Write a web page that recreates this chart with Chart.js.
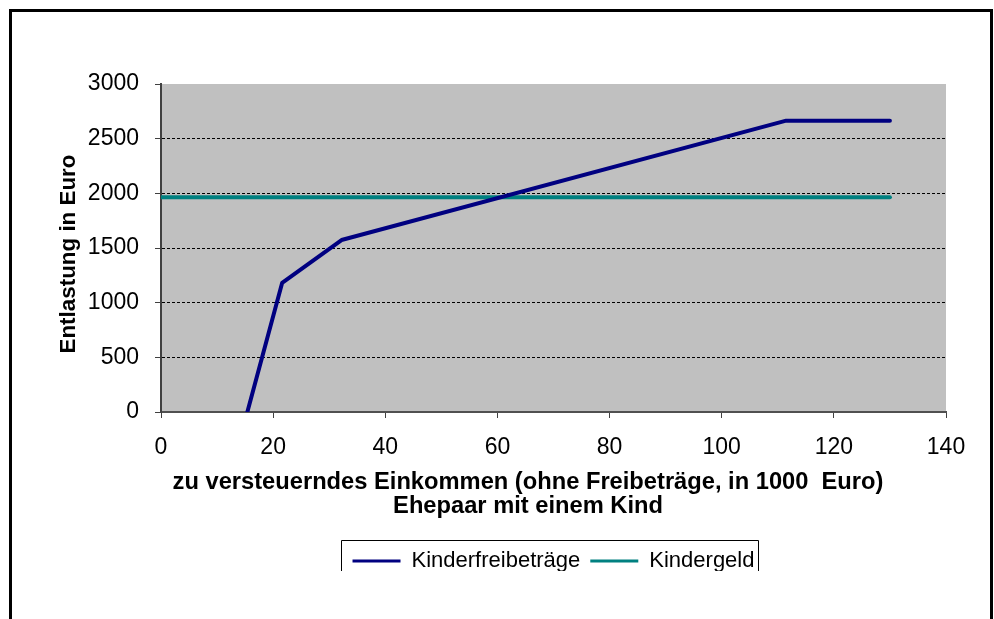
<!DOCTYPE html>
<html>
<head>
<meta charset="utf-8">
<script src="https://cdn.jsdelivr.net/npm/chart.js@4/dist/chart.umd.min.js"></script>
<style>
  html, body { margin: 0; padding: 0; background: #fff; }
  #wrap { width: 994px; height: 619px; position: relative; }
</style>
</head>
<body>
<div id="wrap"><canvas id="c" width="994" height="619"></canvas></div>
<script>
// ---- data ----
const seriesNames = ['Kinderfreibeträge', 'Kindergeld'];
const incomeFreibetrag = [15.4, 21.6, 32.2, 111.5, 130];      // in 1000 Euro
const reliefFreibetrag = [0, 1180, 1573, 2665, 2665];        // Euro
const incomeKindergeld = [0, 130];
const reliefKindergeld = [1964, 1964];
const xTickValues = [0, 20, 40, 60, 80, 100, 120, 140];
const yTickValues = [0, 500, 1000, 1500, 2000, 2500, 3000];
const xTitleLines = ['zu versteuerndes Einkommen (ohne Freibeträge, in 1000  Euro)', 'Ehepaar mit einem Kind'];
const yTitle = 'Entlastung in Euro';

const FONT = '"Liberation Sans", Arial, sans-serif';

const toPoints = (xs, ys) => xs.map((x, i) => ({ x: x, y: ys[i] }));

const framePlugin = {
  id: 'frame',
  beforeDraw(chart) {
    const { ctx, chartArea: a } = chart;
    ctx.save();
    ctx.fillStyle = '#ffffff';
    ctx.fillRect(0, 0, chart.width, chart.height);
    ctx.fillStyle = '#c0c0c0';
    ctx.fillRect(a.left, a.top, a.right - a.left, a.bottom - a.top);
    ctx.restore();
  },
  afterDraw(chart) {
    const { ctx } = chart;
    ctx.save();
    // axis titles
    ctx.fillStyle = '#000';
    ctx.textAlign = 'center';
    ctx.textBaseline = 'middle';
    ctx.font = 'bold 23.7px ' + FONT;
    ctx.fillText(xTitleLines[0], 528, 482.5);
    ctx.fillText(xTitleLines[1], 528, 506);
    ctx.save();
    ctx.translate(69, 254);
    ctx.rotate(-Math.PI / 2);
    ctx.font = 'bold 22.4px ' + FONT;
    ctx.fillText(yTitle, 0, 0);
    ctx.restore();
    // legend box (open at the bottom, clipped like the reference)
    const lg = chart.legend;
    if (lg && lg.legendHitBoxes && lg.legendHitBoxes.length) {
      const hb = lg.legendHitBoxes;
      const l = Math.round(hb[0].left - 12) + 0.5;
      const last = hb[hb.length - 1];
      const r = Math.round(last.left + last.width + 4) + 0.5;
      ctx.fillStyle = '#ffffff';
      ctx.fillRect(12, 571, 977, chart.height - 571);
      ctx.strokeStyle = '#000';
      ctx.lineWidth = 1;
      ctx.beginPath();
      ctx.moveTo(l, 571);
      ctx.lineTo(l, 540.5);
      ctx.lineTo(r, 540.5);
      ctx.lineTo(r, 571);
      ctx.stroke();
    }
    // outer frame
    ctx.strokeStyle = '#000';
    ctx.lineWidth = 3;
    ctx.strokeRect(10.5, 10.5, 981, 700);
    ctx.restore();
  }
};

new Chart(document.getElementById('c'), {
  type: 'line',
  data: {
    datasets: [
      {
        label: seriesNames[0],
        data: toPoints(incomeFreibetrag, reliefFreibetrag),
        borderColor: '#000080',
        backgroundColor: '#000080',
        borderWidth: 4,
        borderCapStyle: 'round',
        borderJoinStyle: 'round',
        pointRadius: 0,
        tension: 0
      },
      {
        label: seriesNames[1],
        data: toPoints(incomeKindergeld, reliefKindergeld),
        borderColor: '#008080',
        backgroundColor: '#008080',
        borderWidth: 4,
        borderCapStyle: 'round',
        borderJoinStyle: 'round',
        pointRadius: 0,
        tension: 0
      }
    ]
  },
  options: {
    responsive: false,
    animation: false,
    devicePixelRatio: 1,
    layout: { padding: { top: 84, right: 48, bottom: 37, left: 0 } },
    plugins: {
      tooltip: { enabled: false },
      legend: {
        position: 'bottom',
        fullSize: false,
        labels: {
          usePointStyle: true,
          pointStyle: 'line',
          pointStyleWidth: 48,
          padding: 10,
          color: '#000',
          font: { family: FONT, size: 22 },
          generateLabels(chart) {
            const items = Chart.defaults.plugins.legend.labels.generateLabels(chart);
            items.forEach(it => { it.lineWidth = 3; it.pointStyle = 'line'; it.lineCap = 'butt'; });
            return items;
          }
        }
      }
    },
    scales: {
      x: {
        type: 'linear',
        min: 0,
        max: 140,
        afterBuildTicks(scale) { scale.ticks = xTickValues.map(v => ({ value: v })); },
        afterFit(scale) { scale.height = 128; },
        ticks: {
          color: '#000',
          font: { family: FONT, size: 23 },
          padding: 16,
          maxRotation: 0,
          callback: v => String(v)
        },
        grid: {
          drawOnChartArea: false,
          drawTicks: true,
          tickLength: 6,
          tickColor: '#404040',
          tickWidth: 1
        },
        border: { display: true, color: '#505050', width: 2 }
      },
      y: {
        type: 'linear',
        min: 0,
        max: 3000,
        afterBuildTicks(scale) { scale.ticks = yTickValues.map(v => ({ value: v })); },
        afterFit(scale) { scale.width = 161; },
        ticks: {
          color: '#000',
          font: { family: FONT, size: 23 },
          padding: 16,
          callback: v => String(v)
        },
        grid: {
          drawOnChartArea: true,
          drawTicks: true,
          tickLength: 6,
          tickColor: '#404040',
          tickWidth: 1,
          tickBorderDash: [],
          lineWidth: 1,
          color: ctx => (ctx.tick && (ctx.tick.value === 0 || ctx.tick.value === 3000)) ? 'rgba(0,0,0,0)' : '#000'
        },
        border: { display: true, color: '#404040', width: 2, dash: [3, 2] }
      }
    }
  },
  plugins: [framePlugin]
});
</script>
</body>
</html>
